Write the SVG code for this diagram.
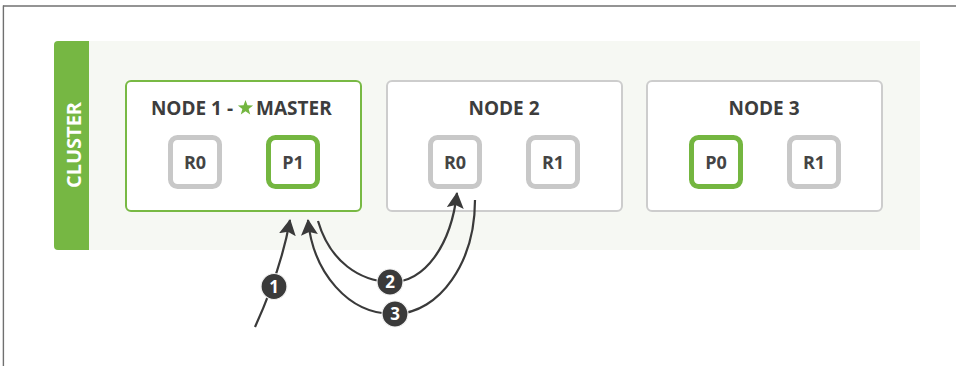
<svg xmlns="http://www.w3.org/2000/svg" width="956" height="366" viewBox="0 0 956 366">
  <style>
    .title { font-family: "Open Sans", "Liberation Sans", sans-serif; font-weight: 700; font-size: 19px; fill: #3d3d3d; }
    .shard-label { font-family: "Open Sans", "Liberation Sans", sans-serif; font-weight: 700; font-size: 18px; fill: #444444; text-anchor: middle; }
    .node-box { fill: #ffffff; stroke-width: 2; }
    .node-master { stroke: #78b944; }
    .node-plain { stroke: #cdcdcd; }
    .shard { fill: #ffffff; stroke-width: 5; }
    .replica { stroke: #c8c8c8; }
    .primary { stroke: #74b640; }
    .conn { fill: none; stroke: #3a3a3a; stroke-width: 2.2; }
    .badge { fill: #3a3a3a; stroke: #f2f2f2; stroke-width: 1.2; }
    .badge-num { font-family: "Open Sans", "Liberation Sans", sans-serif; font-weight: 700; font-size: 17px; fill: #ffffff; text-anchor: middle; }
  </style>
  <defs>
    <marker id="arrow" viewBox="0 0 16 17" refX="15" refY="8.5" markerWidth="16" markerHeight="17" markerUnits="userSpaceOnUse" orient="auto">
      <path d="M0,0 L16,8.5 L0,17 L3,8.5 z" fill="#3a3a3a"/>
    </marker>
  </defs>

  <!-- frame -->
  <rect x="0" y="0" width="956" height="366" fill="#ffffff"/>
  <line x1="3" y1="6" x2="956" y2="6" stroke="#707070" stroke-width="1.6"/>
  <line x1="3.4" y1="5.5" x2="3.4" y2="366" stroke="#707070" stroke-width="1.4"/>

  <!-- cluster -->
  <g id="cluster">
    <rect x="89" y="41" width="831" height="209" fill="#f6f8f3"/>
    <path d="M89,41 L89,250 L58,250 Q54,250 54,246 L54,45 Q54,41 58,41 Z" fill="#76b743"/>
    <text x="80.5" y="145" transform="rotate(-90 80.5 145)" text-anchor="middle" font-family="'Open Sans', 'Liberation Sans', sans-serif" font-weight="700" font-size="20" fill="#ffffff">CLUSTER</text>
  </g>

  <!-- node 1 -->
  <g id="node1">
    <rect class="node-box node-master" x="126" y="81" width="235" height="130" rx="5"/>
    <text class="title" x="233" y="115" text-anchor="end">NODE 1 -</text>
    <polygon points="245.5,100 247.44,105.33 253.11,105.53 248.64,109.02 250.2,114.47 245.5,111.3 240.8,114.47 242.36,109.02 237.89,105.53 243.56,105.33" fill="#74b640"/>
    <text class="title" x="256" y="115">MASTER</text>
    <g id="node1-r0">
      <rect class="shard replica" x="170.5" y="137.5" width="49" height="49" rx="7"/>
      <text class="shard-label" x="195" y="168.5">R0</text>
    </g>
    <g id="node1-p1">
      <rect class="shard primary" x="268.5" y="137.5" width="49" height="49" rx="7"/>
      <text class="shard-label" x="293" y="168.5">P1</text>
    </g>
  </g>

  <!-- node 2 -->
  <g id="node2">
    <rect class="node-box node-plain" x="387" y="81" width="235" height="130" rx="5"/>
    <text class="title" x="504" y="114.5" text-anchor="middle">NODE 2</text>
    <g id="node2-r0">
      <rect class="shard replica" x="430.5" y="137.5" width="49" height="49" rx="7"/>
      <text class="shard-label" x="455" y="168.5">R0</text>
    </g>
    <g id="node2-r1">
      <rect class="shard replica" x="528.5" y="137.5" width="49" height="49" rx="7"/>
      <text class="shard-label" x="553" y="168.5">R1</text>
    </g>
  </g>

  <!-- node 3 -->
  <g id="node3">
    <rect class="node-box node-plain" x="647" y="81" width="235" height="130" rx="5"/>
    <text class="title" x="764" y="114.5" text-anchor="middle">NODE 3</text>
    <g id="node3-p0">
      <rect class="shard primary" x="691.5" y="137.5" width="49" height="49" rx="7"/>
      <text class="shard-label" x="716" y="168.5">P0</text>
    </g>
    <g id="node3-r1">
      <rect class="shard replica" x="789.5" y="137.5" width="49" height="49" rx="7"/>
      <text class="shard-label" x="814" y="168.5">R1</text>
    </g>
  </g>

  <!-- connectors -->
  <g id="connectors">
    <path class="conn" d="M255,327 C265,305 282,265 290,220" marker-end="url(#arrow)"/>
    <path class="conn" d="M318,221 C330,262 360,281 390,282 C425,283 451,245 457,193" marker-end="url(#arrow)"/>
    <path class="conn" d="M475,200 C475,262 440,313 395,314 C348,315 313,272 308,220" marker-end="url(#arrow)"/>
    <g id="badge1">
      <circle class="badge" cx="274" cy="286.5" r="13"/>
      <text class="badge-num" x="274" y="292.5">1</text>
    </g>
    <g id="badge2">
      <circle class="badge" cx="390" cy="282" r="13"/>
      <text class="badge-num" x="390" y="288">2</text>
    </g>
    <g id="badge3">
      <circle class="badge" cx="395" cy="314" r="13"/>
      <text class="badge-num" x="395" y="320">3</text>
    </g>
  </g>
</svg>
